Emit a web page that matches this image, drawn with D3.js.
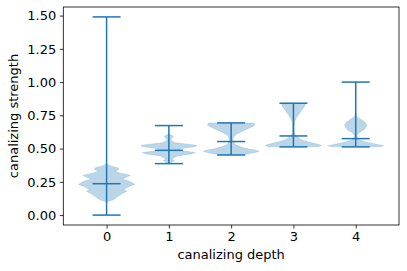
<!DOCTYPE html>
<html>
<head>
<meta charset="utf-8">
<script src="https://cdn.jsdelivr.net/npm/d3@7"></script>
<style>
body { margin: 0; background: #fff; }
text { font-family: "DejaVu Sans", sans-serif; }
</style>
</head>
<body>
<div id="chart"></div>
<script>
var width = 407;
var height = 271;

// depth categories
var depths = [0, 1, 2, 3, 4];
// min / median / max of canalizing strength per depth
var mins = [0.0, 0.387, 0.452, 0.513, 0.513];
var medians = [0.236, 0.487, 0.553, 0.595, 0.575];
var maxs = [1.49, 0.673, 0.693, 0.841, 1.0];

// density profiles: [value, relative half-width]
var profile0 = [[0.10,0],[0.115,0.25],[0.14,0.4],[0.16,0.55],[0.18,0.72],[0.19,0.6],[0.20,0.68],[0.215,0.8],[0.23,1.0],[0.245,0.9],[0.26,0.75],[0.27,0.55],[0.285,0.7],[0.30,0.85],[0.315,0.5],[0.33,0.3],[0.345,0.45],[0.355,0.4],[0.37,0.15],[0.385,0]];
var profile1 = [[0.387,0.02],[0.40,0.12],[0.41,0.2],[0.42,0.12],[0.43,0.15],[0.445,0.3],[0.46,0.8],[0.47,0.95],[0.48,0.6],[0.49,0.35],[0.50,0.45],[0.515,0.95],[0.525,1.0],[0.535,0.6],[0.545,0.2],[0.56,0.08],[0.575,0.08],[0.585,0.15],[0.595,0.15],[0.605,0.05],[0.615,0]];
var profile2 = [[0.452,0.3],[0.46,0.6],[0.47,0.85],[0.48,1.0],[0.49,0.85],[0.50,0.55],[0.515,0.3],[0.53,0.15],[0.55,0.08],[0.57,0.07],[0.59,0.1],[0.61,0.2],[0.63,0.4],[0.65,0.6],[0.67,0.8],[0.68,0.85],[0.693,0.8]];
var profile3 = [[0.513,0.9],[0.525,1.0],[0.54,0.75],[0.555,0.45],[0.57,0.25],[0.59,0.12],[0.61,0.05],[0.65,0.03],[0.70,0.04],[0.73,0.1],[0.76,0.2],[0.79,0.3],[0.82,0.4],[0.841,0.42]];
var profile4 = [[0.513,0.85],[0.522,1.0],[0.535,0.7],[0.55,0.35],[0.565,0.15],[0.58,0.06],[0.60,0.05],[0.62,0.12],[0.64,0.28],[0.66,0.37],[0.68,0.4],[0.70,0.32],[0.72,0.18],[0.74,0.05],[0.76,0.01],[0.85,0],[1.0,0]];
var profiles = [profile0, profile1, profile2, profile3, profile4];

var yTicks = [0, 0.25, 0.5, 0.75, 1.0, 1.25, 1.5];

var margin = {left: 63.3, right: 8, top: 7, bottom: 46};
var vWidth = 0.9;

var xScale = d3.scaleLinear().domain([-0.695, 4.695]).range([margin.left, width - margin.right]);
var yScale = d3.scaleLinear().domain([-0.0745, 1.5645]).range([height - margin.bottom, margin.top]);
var unit = xScale(1) - xScale(0);

var svg = d3.select("#chart").append("svg")
    .attr("width", width)
    .attr("height", height);

var blue = "#1f77b4";

// violin bodies
depths.forEach(function(d, i) {
    var cx = xScale(d);
    var area = d3.area()
        .y(function(p) { return yScale(p[0]); })
        .x0(function(p) { return cx - p[1] * unit * vWidth / 2; })
        .x1(function(p) { return cx + p[1] * unit * vWidth / 2; });
    svg.append("path")
        .attr("d", area(profiles[i]))
        .attr("fill", blue)
        .attr("fill-opacity", 0.3)
        .attr("stroke", blue)
        .attr("stroke-opacity", 0.3)
        .attr("stroke-width", 0.5);
});

// bars and caps
var capHalf = unit * vWidth / 4;
depths.forEach(function(d, i) {
    var cx = xScale(d);
    svg.append("line")
        .attr("x1", cx).attr("x2", cx)
        .attr("y1", yScale(mins[i])).attr("y2", yScale(maxs[i]))
        .attr("stroke", blue).attr("stroke-width", 1.5);
    [mins[i], medians[i], maxs[i]].forEach(function(v) {
        svg.append("line")
            .attr("x1", cx - capHalf).attr("x2", cx + capHalf)
            .attr("y1", yScale(v)).attr("y2", yScale(v))
            .attr("stroke", blue).attr("stroke-width", 1.5);
    });
});

// axes
var xAxis = d3.axisBottom(xScale).tickValues(depths).tickFormat(d3.format("d")).tickSizeOuter(0).tickSize(3.5).tickPadding(3.5);
var yAxis = d3.axisLeft(yScale).tickValues(yTicks).tickFormat(d3.format(".2f")).tickSizeOuter(0).tickSize(3.5).tickPadding(3.5);

var gx = svg.append("g")
    .attr("transform", "translate(0," + (height - margin.bottom) + ")")
    .call(xAxis);
var gy = svg.append("g")
    .attr("transform", "translate(" + margin.left + ",0)")
    .call(yAxis);
[gx, gy].forEach(function(g) {
    g.select(".domain").remove();
    g.selectAll("line").attr("stroke", "#000").attr("stroke-width", 0.8);
    g.selectAll("text").attr("font-size", 13).attr("fill", "#000")
        .style("font-family", "'DejaVu Sans', sans-serif");
});

// frame
svg.append("rect")
    .attr("x", margin.left).attr("y", margin.top)
    .attr("width", width - margin.right - margin.left)
    .attr("height", height - margin.bottom - margin.top)
    .attr("fill", "none").attr("stroke", "#000").attr("stroke-width", 0.8);

svg.append("text")
    .attr("x", (margin.left + width - margin.right) / 2)
    .attr("y", 258.5)
    .attr("text-anchor", "middle")
    .attr("font-size", 13)
    .text("canalizing depth");

svg.append("text")
    .attr("transform", "translate(18," + ((margin.top + height - margin.bottom) / 2) + ") rotate(-90)")
    .attr("text-anchor", "middle")
    .attr("font-size", 13)
    .text("canalizing strength");
</script>
</body>
</html>
